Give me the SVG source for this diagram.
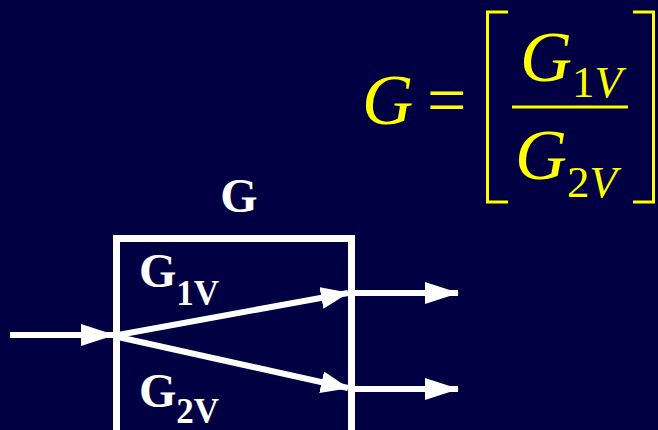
<svg xmlns="http://www.w3.org/2000/svg" width="658" height="430" viewBox="0 0 658 430">
<defs>
<style>
.w{fill:#fff;font-family:"Liberation Serif",serif;font-weight:bold}
.y{fill:#ff0;font-family:"Liberation Serif",serif}
.ln{stroke:#fff;stroke-width:6;fill:none}
.br{stroke:#ff0;stroke-width:3;fill:none}
</style>
<marker id="ah" markerUnits="userSpaceOnUse" markerWidth="34" markerHeight="22" refX="33" refY="11" orient="auto"><path d="M0,0 L34,11 L0,22 Z" fill="#fff"/></marker>
<marker id="ah2" markerUnits="userSpaceOnUse" markerWidth="28" markerHeight="22" refX="27" refY="11" orient="auto"><path d="M0,0 L28,11 L0,22 Z" fill="#fff"/></marker>
</defs>
<rect width="658" height="430" fill="#000042"/>
<g id="formula">
<text class="y" x="362" y="124" font-size="71" font-style="italic">G</text>
<text class="y" x="427" y="124" font-size="70">=</text>
<path class="br" d="M508,12 H487.5 V202 H508"/>
<path class="br" d="M633,12 H653.5 V202 H633"/>
<line x1="512" y1="107" x2="628" y2="107" stroke="#ff0" stroke-width="3"/>
<text class="y" x="520" y="81" font-size="72" font-style="italic">G<tspan font-size="45" font-style="normal" dy="16">1</tspan><tspan font-size="45">V</tspan></text>
<text class="y" x="515" y="179" font-size="72" font-style="italic">G<tspan font-size="45" font-style="normal" dy="18">2</tspan><tspan font-size="45">V</tspan></text>
</g>
<g id="block">
<text class="w" x="239" y="212" font-size="48" text-anchor="middle">G</text>
<rect x="116.5" y="238.5" width="235" height="200" fill="none" stroke="#fff" stroke-width="7"/>
<text class="w" x="139" y="287" font-size="48">G<tspan font-size="35" dy="18">1V</tspan></text>
<text class="w" x="139" y="407" font-size="48">G<tspan font-size="35" dy="16">2V</tspan></text>
</g>
<g id="connectors">
<line class="ln" x1="10" y1="335" x2="114" y2="335" stroke-width="7" marker-end="url(#ah)"/>
<line class="ln" x1="118" y1="335" x2="348" y2="293" stroke-width="7" marker-end="url(#ah2)"/>
<line class="ln" x1="118" y1="337" x2="348" y2="388" stroke-width="7" marker-end="url(#ah2)"/>
<line class="ln" x1="353" y1="293" x2="458" y2="293" marker-end="url(#ah)"/>
<line class="ln" x1="353" y1="389" x2="458" y2="389" marker-end="url(#ah)"/>
</g>
</svg>
